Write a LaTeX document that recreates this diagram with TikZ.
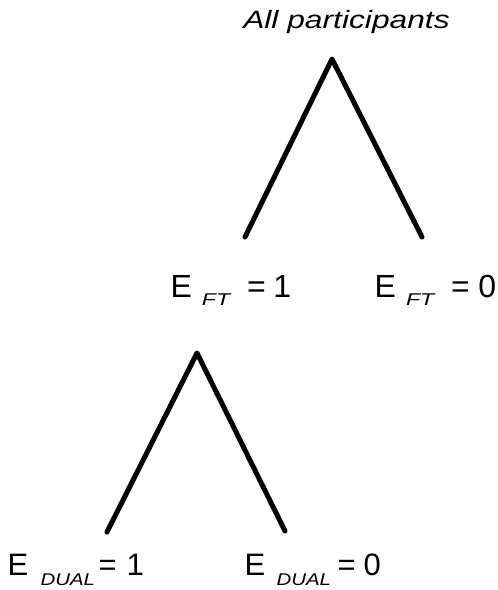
\documentclass[tikz,border=0pt]{standalone}
\usepackage{fontspec}
\setmainfont{Liberation Sans}
\begin{document}
\begin{tikzpicture}[x=1pt,y=-1pt,
  branch/.style={line width=5pt,line cap=round,line join=round},
  lab/.style={inner sep=0pt,outer sep=0pt,anchor=base west},
]
\useasboundingbox (0,0) rectangle (498,590);
% top label
\node[inner sep=0pt,anchor=base] (all) at (346.5,28)
  {\fontsize{25pt}{25pt}\selectfont\itshape\scalebox{1.27}[1]{All participants}};
% labels of first split
\node[lab] (ft1) at (170.5,297) {\fontsize{32pt}{32pt}\selectfont
  \rlap{E}\hspace{31.5pt}\raisebox{-8pt}{\rlap{\fontsize{17pt}{17pt}\selectfont\itshape\scalebox{1.35}[1]{FT}}}\hspace{45pt}\rlap{=}\hspace{26.5pt}1};
\node[lab] (ft0) at (374.5,297) {\fontsize{32pt}{32pt}\selectfont
  \rlap{E}\hspace{31.5pt}\raisebox{-8pt}{\rlap{\fontsize{17pt}{17pt}\selectfont\itshape\scalebox{1.35}[1]{FT}}}\hspace{45pt}\rlap{=}\hspace{27.5pt}0};
% labels of second split
\node[lab] (d1) at (7.6,575) {\fontsize{31pt}{31pt}\selectfont
  \rlap{E}\hspace{33pt}\raisebox{-10pt}{\rlap{\fontsize{17pt}{17pt}\selectfont\itshape\scalebox{1.2}[1]{DUAL}}}\hspace{58pt}\rlap{=}\hspace{28pt}1};
\node[lab] (d0) at (244.6,575) {\fontsize{31pt}{31pt}\selectfont
  \rlap{E}\hspace{32pt}\raisebox{-10pt}{\rlap{\fontsize{17pt}{17pt}\selectfont\itshape\scalebox{1.2}[1]{DUAL}}}\hspace{61pt}\rlap{=}\hspace{26pt}0};
% branch points
\coordinate (apexA) at (332,59);
\coordinate (endA1) at (245,237);
\coordinate (endA0) at (422,237);
\coordinate (apexB) at (197,353);
\coordinate (endB1) at (107,532);
\coordinate (endB0) at (285,531);
\draw[branch] (endA1) -- (apexA) -- (endA0);
\draw[branch] (endB1) -- (apexB) -- (endB0);
\end{tikzpicture}
\end{document}
